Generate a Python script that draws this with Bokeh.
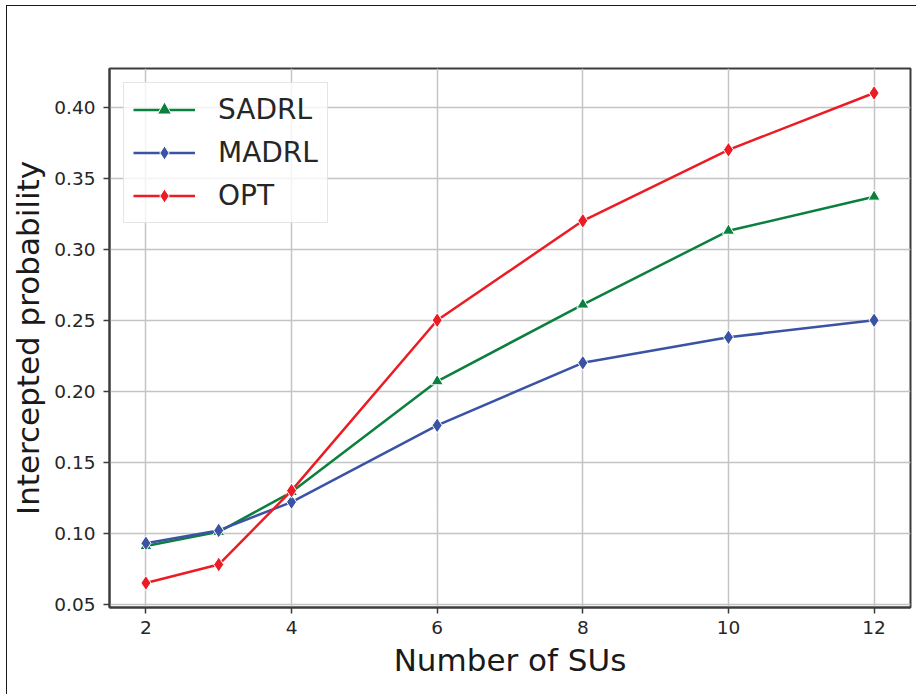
from bokeh.plotting import figure
from bokeh.models import Legend, LegendItem, FixedTicker, Range1d
from bokeh.embed import file_html
from bokeh.resources import INLINE

# Intercepted probability versus number of secondary users (SUs)
num_sus = [2, 3, 4, 6, 8, 10, 12]
sadrl = [0.091, 0.101, 0.129, 0.207, 0.261, 0.313, 0.337]
madrl = [0.093, 0.102, 0.122, 0.176, 0.220, 0.238, 0.250]
opt = [0.065, 0.078, 0.130, 0.250, 0.320, 0.370, 0.410]

x_ticks = [2, 4, 6, 8, 10, 12]
y_ticks = [0.05, 0.10, 0.15, 0.20, 0.25, 0.30, 0.35, 0.40]

series = [
    ("SADRL", sadrl, "#0b7f3e", "triangle", 12),
    ("MADRL", madrl, "#3a53a4", "diamond", 15),
    ("OPT", opt, "#ec1c24", "diamond", 15),
]

FONT = "DejaVu Sans"
TEXT = "#262626"
DARK = "#3c3c3c"

p = figure(
    frame_width=801, frame_height=539,
    min_border_left=102, min_border_right=6, min_border_top=62, min_border_bottom=87,
    x_range=Range1d(1.5, 12.5), y_range=Range1d(0.04775, 0.42725),
    output_backend="svg", toolbar_location=None,
    background_fill_color="white", border_fill_color="white",
)
p.margin = (5, 0, 0, 6)
p.styles = {"border-left": "1px solid #1a1a1a", "border-top": "1px solid #1a1a1a"}

p.outline_line_color = DARK
p.outline_line_width = 2

p.xaxis.ticker = FixedTicker(ticks=x_ticks)
p.yaxis.ticker = FixedTicker(ticks=y_ticks)
p.yaxis.major_label_overrides = {t: f"{t:.2f}" for t in y_ticks}

for ax in (p.xaxis[0], p.yaxis[0]):
    ax.axis_line_color = DARK
    ax.axis_line_width = 2
    ax.major_tick_line_color = DARK
    ax.major_tick_line_width = 1.5
    ax.major_tick_out = 6
    ax.major_tick_in = 0
    ax.minor_tick_line_color = None
    ax.major_label_text_font = FONT
    ax.major_label_text_font_size = "18.5px"
    ax.major_label_text_color = TEXT
    ax.axis_label_text_font = FONT
    ax.axis_label_text_font_size = "31px"
    ax.axis_label_text_font_style = "normal"
    ax.axis_label_text_color = "#1a1a1a"

p.xaxis.axis_label = "Number of SUs"
p.yaxis.axis_label = "Intercepted probability"
p.xaxis.major_label_standoff = 7
p.yaxis.major_label_standoff = 8
p.xaxis.axis_label_standoff = 5
p.yaxis.axis_label_standoff = 5

p.grid.grid_line_color = "#c4c4c4"
p.grid.grid_line_width = 1.5

items = []
for name, ys, color, marker, size in series:
    ln = p.line(num_sus, ys, line_color=color, line_width=2.5)
    sc = p.scatter(num_sus, ys, marker=marker, size=size, fill_color=color,
                   line_color="white", line_width=1)
    items.append(LegendItem(label=name, renderers=[ln, sc]))

legend = Legend(
    items=items, location="top_left", margin=14, padding=9,
    glyph_width=62, glyph_height=35, label_height=35, label_standoff=23, spacing=8,
    label_text_font=FONT, label_text_font_size="28px", label_text_color=TEXT,
    border_line_color="#cccccc", border_line_width=1.5,
    background_fill_color="white", background_fill_alpha=0.8,
)
p.add_layout(legend)

open("out.html", "w").write(file_html(p, INLINE))
